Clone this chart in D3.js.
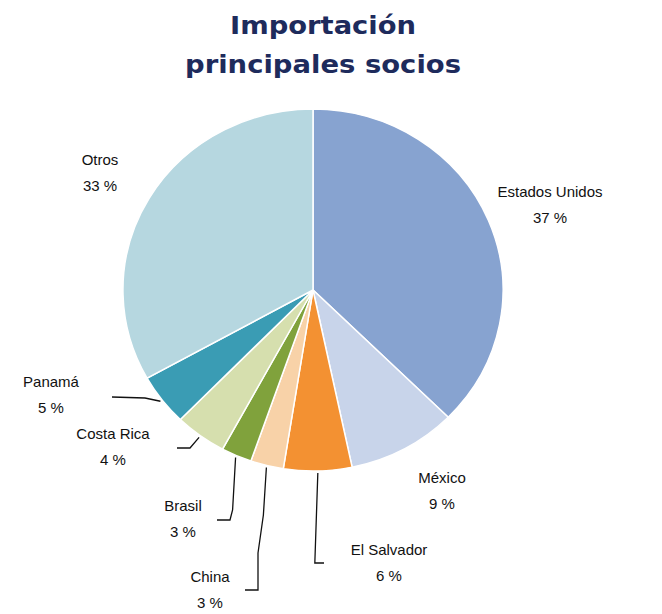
<!DOCTYPE html>
<html>
<head>
<meta charset="utf-8">
<script src="https://cdn.jsdelivr.net/npm/d3@7"></script>
<style>
  body { margin: 0; background: #fff; }
  text { font-family: "Liberation Sans", Arial, sans-serif; }
</style>
</head>
<body>
<div id="chart"></div>
<script>
// data
const partners = ["Estados Unidos", "México", "El Salvador", "China", "Brasil", "Costa Rica", "Panamá", "Otros"];
const shares = [37.4, 9.3, 5.8, 2.8, 2.6, 4.4, 4.6, 33.1];
const colors = ["#87a3d0", "#c8d4ea", "#f39132", "#f8d2a8", "#80a23c", "#d6dfae", "#3a9cb4", "#b6d7e0"];
const titleLines = ["Importación", "principales socios"];

// label placement (text centre, first line baseline) and leader elbows
const labelPos = {
  "Estados Unidos": { x: 550, y: 197 },
  "México": { x: 442, y: 483 },
  "El Salvador": { x: 389, y: 555 },
  "China": { x: 210, y: 582 },
  "Brasil": { x: 183, y: 511 },
  "Costa Rica": { x: 113, y: 439 },
  "Panamá": { x: 51, y: 387 },
  "Otros": { x: 100, y: 165 }
};
const leaderEnd = {
  "El Salvador": [[null, 563], [324, 563]],
  "China": [[null, 515], [258, 553], [258, 590], [245, 590]],
  "Brasil": [[null, 510], [230, 520], [217, 520]],
  "Costa Rica": [[190, 448], [177, 448]],
  "Panamá": [[145, 398], [112, 397]]
};

const width = 662, height = 614;
const cx = 313, cy = 290, r = 181, sx = 1.05;

const svg = d3.select("#chart").append("svg")
  .attr("width", width)
  .attr("height", height);

// title
svg.append("g").selectAll("text")
  .data(titleLines)
  .join("text")
  .attr("x", 323)
  .attr("y", (d, i) => 34 + i * 39)
  .attr("text-anchor", "middle")
  .attr("textLength", (d, i) => i === 0 ? 186 : 276)
  .attr("lengthAdjust", "spacingAndGlyphs")
  .style("font-family", "'DejaVu Sans', sans-serif")
  .style("font-weight", "bold")
  .style("font-size", "25px")
  .attr("fill", "#1e2b5c")
  .text(d => d);

const data = partners.map((p, i) => ({ name: p, value: shares[i], color: colors[i] }));

const pie = d3.pie().sort(null).value(d => d.value);
const arcs = pie(data);
const arc = d3.arc().innerRadius(0).outerRadius(r);

const g = svg.append("g")
  .attr("transform", `translate(${cx},${cy}) scale(${sx},1)`);

g.selectAll("path")
  .data(arcs)
  .join("path")
  .attr("d", arc)
  .attr("fill", d => d.data.color)
  .attr("stroke", "#fff")
  .attr("stroke-width", 1.5)
  .attr("vector-effect", "non-scaling-stroke");

// leader lines: start at slice edge (mid angle)
const edgePoint = d => {
  const a = (d.startAngle + d.endAngle) / 2;
  return [cx + sx * (r + 2) * Math.sin(a), cy - (r + 2) * Math.cos(a)];
};

const leaders = arcs.filter(d => leaderEnd[d.data.name]).map(d => {
  const s = edgePoint(d);
  const pts = [s];
  leaderEnd[d.data.name].forEach(p => {
    pts.push([p[0] === null ? s[0] - 3 : p[0], p[1]]);
  });
  return pts;
});

svg.append("g").selectAll("path")
  .data(leaders)
  .join("path")
  .attr("d", d3.line())
  .attr("fill", "none")
  .attr("stroke", "#111")
  .attr("stroke-width", 1.3);

// labels
const labels = svg.append("g").selectAll("text")
  .data(arcs)
  .join("text")
  .attr("text-anchor", "middle")
  .style("font-size", "15px")
  .attr("fill", "#111");

labels.append("tspan")
  .attr("x", d => labelPos[d.data.name].x)
  .attr("y", d => labelPos[d.data.name].y)
  .text(d => d.data.name);

labels.append("tspan")
  .attr("x", d => labelPos[d.data.name].x)
  .attr("y", d => labelPos[d.data.name].y + 26)
  .text(d => Math.round(d.data.value) + " %");
</script>
</body>
</html>
